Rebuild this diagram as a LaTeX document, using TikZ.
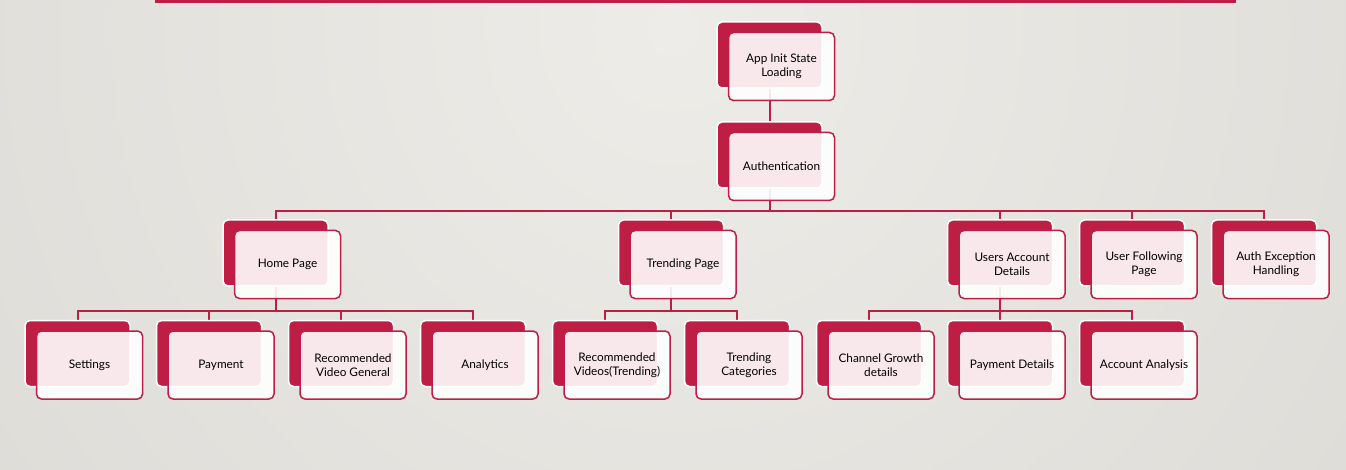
\documentclass[tikz,border=0pt]{standalone}
\usepackage{fontspec}
\setmainfont{Lato}
\usetikzlibrary{positioning}
\definecolor{crimson}{RGB}{190,30,68}
\definecolor{bgin}{RGB}{237,236,232}
\definecolor{bgout}{RGB}{211,208,203}
\pgfdeclarelayer{bg}
\pgfdeclarelayer{links}
\pgfsetlayers{bg,links,main}
\tikzset{
  back/.style={draw=white, line width=1.5pt, fill=crimson, rounded corners=5pt,
    minimum width=105pt, minimum height=66pt},
  front/.style={draw=crimson, line width=1.5pt, fill=white, fill opacity=0.9,
    text opacity=1, rounded corners=5pt, minimum width=106pt, minimum height=68pt,
    align=center, font=\fontsize{11.8}{14}\selectfont},
  link/.style={draw=crimson, line width=2pt},
}
\begin{document}
\begin{tikzpicture}[x=1pt,y=-1pt]
\useasboundingbox (0,0) rectangle (1346,470);
\begin{pgfonlayer}{bg}
\begin{scope}
\clip (0,0) rectangle (1346,470);
\shade[inner color=bgin, outer color=bgout] (673,30) circle (1500);
\end{scope}
\fill[crimson] (155,0) rectangle (1236,3);
\end{pgfonlayer}
%%%% top
\node[back] (app) at (769.5,55) {};
\node[front] (app-f) at ([shift={(12,11.5)}]app.center) {App Init State\\Loading};
\node[back] (auth) at (769.5,155) {};
\node[front] (auth-f) at ([shift={(12,11.5)}]auth.center) {Authentication};
%%%% second row
\node[back] (home) at (275.5,253) {};
\node[front] (home-f) at ([shift={(12,11.5)}]home.center) {Home Page};
\node[back] (trend) at (671,253) {};
\node[front] (trend-f) at ([shift={(12,11.5)}]trend.center) {Trending Page};
\node[back] (users) at (1000,253) {};
\node[front] (users-f) at ([shift={(12,11.5)}]users.center) {Users Account\\Details};
\node[back] (follow) at (1132,253) {};
\node[front] (follow-f) at ([shift={(12,11.5)}]follow.center) {User Following\\Page};
\node[back] (exc) at (1264,253) {};
\node[front] (exc-f) at ([shift={(12,11.5)}]exc.center) {Auth Exception\\Handling};
%%%% third row
\node[back] (set) at (77.5,353.5) {};
\node[front] (set-f) at ([shift={(12,11.5)}]set.center) {Settings};
\node[back] (pay) at (209,353.5) {};
\node[front] (pay-f) at ([shift={(12,11.5)}]pay.center) {Payment};
\node[back] (recgen) at (341,353.5) {};
\node[front] (recgen-f) at ([shift={(12,11.5)}]recgen.center) {Recommended\\Video General};
\node[back] (ana) at (473,353.5) {};
\node[front] (ana-f) at ([shift={(12,11.5)}]ana.center) {Analytics};
\node[back] (rectr) at (605,353.5) {};
\node[front] (rectr-f) at ([shift={(12,11.5)}]rectr.center) {Recommended\\Videos(Trending)};
\node[back] (cat) at (737,353.5) {};
\node[front] (cat-f) at ([shift={(12,11.5)}]cat.center) {Trending\\Categories};
\node[back] (grow) at (869,353.5) {};
\node[front] (grow-f) at ([shift={(12,11.5)}]grow.center) {Channel Growth\\details};
\node[back] (paydet) at (1000,353.5) {};
\node[front] (paydet-f) at ([shift={(12,11.5)}]paydet.center) {Payment Details};
\node[back] (acc) at (1132,353.5) {};
\node[front] (acc-f) at ([shift={(12,11.5)}]acc.center) {Account Analysis};
%%%% connectors
\begin{pgfonlayer}{links}
\draw[link] (app.south) -- (auth.north);
\foreach \c in {home,trend,users,follow,exc}
  \draw[link] (auth.south) -- ++(0,22) -| (\c.north);
\foreach \c in {set,pay,recgen,ana}
  \draw[link] (home.south) -- ++(0,24.5) -| (\c.north);
\foreach \c in {rectr,cat}
  \draw[link] (trend.south) -- ++(0,24.5) -| (\c.north);
\foreach \c in {grow,paydet,acc}
  \draw[link] (users.south) -- ++(0,24.5) -| (\c.north);
\end{pgfonlayer}
\end{tikzpicture}
\end{document}
